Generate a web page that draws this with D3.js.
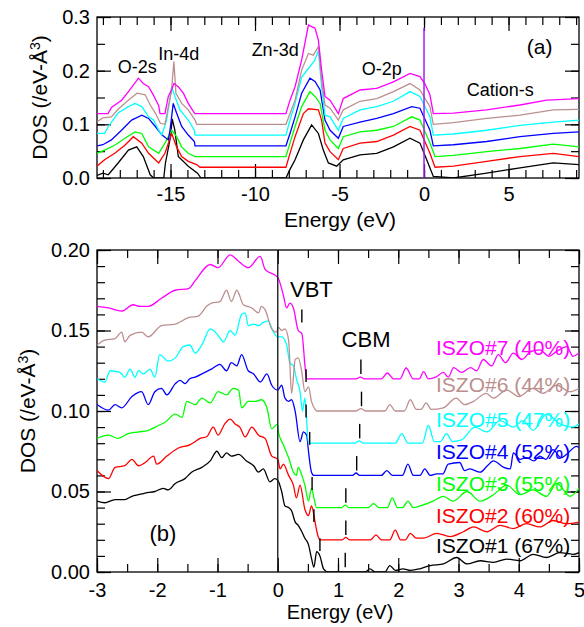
<!DOCTYPE html>
<html>
<head>
<meta charset="utf-8">
<script src="https://cdn.jsdelivr.net/npm/d3@7"></script>
<style>
  body { margin: 0; background: #fff; }
  text { font-family: "Liberation Sans", Arial, Helvetica, sans-serif; }
</style>
</head>
<body>
<div id="chart"></div>
<script>
// samples, bottom curve first
var names = ['ISZO#1 (67%)', 'ISZO#2 (60%)', 'ISZO#3 (55%)', 'ISZO#4 (52%)', 'ISZO#5 (47%)', 'ISZO#6 (44%)', 'ISZO#7 (40%)']
var colors = ['#000000', '#ff0000', '#00ff00', '#0000ff', '#00ffff', '#bc8f8f', '#ff00ff']

// panel (a): [energy (eV), DOS (shifted)]
var topBlack = [[-19.35,0.005],[-19.0,0.009],[-18.68,0.006],[-18.1,0.028],[-17.49,0.052],[-17.0,0.058],[-16.61,0.040],[-16.2,0.006],[-16.0,0],[-15.4,0],[-15.3,0.028],[-15.0,0.077],[-14.9,0.11],[-14.75,0.09],[-14.54,0.040],[-13.95,0.022],[-13.4,0.009],[-13.2,0],[-8.17,0],[-7.93,0.016],[-7.63,0.034],[-7.14,0.071],[-6.65,0.099],[-6.25,0.083],[-5.96,0.052],[-5.66,0.028],[-5.17,0.022],[-4.78,0.034],[-3.79,0.043],[-2.8,0.046],[-1.81,0.058],[-0.83,0.074],[-0.24,0.065],[0.16,0.034],[0.55,0.003],[1.74,0],[3.71,0.009],[5.68,0.019],[7.65,0.028],[9.17,0.025]]
var topRed = [[-19.35,0.022],[-18.9,0.034],[-18.3,0.046],[-17.7,0.061],[-17.2,0.077],[-16.7,0.065],[-16.3,0.046],[-15.7,0.028],[-15.33,0.046],[-14.93,0.083],[-14.64,0.058],[-14.34,0.040],[-13.95,0.031],[-13.45,0.025],[-13.26,0.02],[-8.17,0.02],[-7.93,0.046],[-7.63,0.077],[-7.14,0.120],[-6.84,0.129],[-6.25,0.127],[-6.06,0.108],[-5.86,0.065],[-5.56,0.049],[-5.07,0.034],[-4.78,0.055],[-3.79,0.065],[-2.8,0.068],[-1.81,0.080],[-0.83,0.096],[-0.24,0.089],[0.35,0.046],[0.65,0.02],[1.74,0.022],[3.71,0.031],[5.68,0.040],[7.65,0.046],[9.17,0.040]]
var topGreen = [[-19.35,0.046],[-18.9,0.052],[-18.3,0.061],[-17.7,0.074],[-17.1,0.086],[-16.7,0.083],[-16.3,0.058],[-15.7,0.046],[-15.33,0.065],[-14.93,0.089],[-14.64,0.077],[-14.34,0.058],[-13.95,0.046],[-13.55,0.04],[-8.17,0.04],[-7.93,0.065],[-7.63,0.096],[-7.24,0.133],[-6.75,0.161],[-6.45,0.152],[-6.15,0.139],[-5.86,0.089],[-5.56,0.071],[-5.07,0.055],[-4.78,0.077],[-3.79,0.086],[-2.8,0.089],[-1.81,0.096],[-0.73,0.114],[-0.24,0.108],[0.35,0.065],[0.65,0.04],[1.74,0.042],[3.71,0.049],[5.68,0.055],[7.65,0.063],[9.17,0.058]]
var topBlue = [[-19.35,0.06],[-19.0,0.062],[-18.5,0.071],[-17.9,0.089],[-17.3,0.108],[-16.7,0.117],[-16.3,0.111],[-15.9,0.096],[-15.5,0.08],[-15.13,0.071],[-15.03,0.089],[-14.84,0.139],[-14.64,0.121],[-14.34,0.096],[-13.95,0.08],[-13.59,0.068],[-13.55,0.06],[-8.17,0.06],[-7.93,0.083],[-7.63,0.114],[-7.24,0.158],[-6.75,0.186],[-6.45,0.180],[-6.15,0.164],[-5.86,0.108],[-5.56,0.089],[-5.07,0.074],[-4.78,0.096],[-3.79,0.104],[-2.8,0.111],[-1.81,0.12],[-0.73,0.133],[-0.24,0.13],[0.35,0.089],[0.55,0.06],[1.74,0.062],[3.71,0.068],[5.68,0.077],[7.65,0.083],[9.17,0.086]]
var topCyan = [[-19.35,0.083],[-18.9,0.083],[-18.68,0.096],[-18.1,0.121],[-17.49,0.133],[-17.1,0.139],[-16.7,0.133],[-16.3,0.114],[-16.0,0.108],[-15.7,0.089],[-15.52,0.08],[-15.23,0.108],[-14.93,0.170],[-14.74,0.152],[-14.44,0.127],[-13.95,0.108],[-13.59,0.089],[-13.55,0.08],[-8.17,0.08],[-7.93,0.108],[-7.63,0.139],[-7.24,0.188],[-6.84,0.204],[-6.45,0.220],[-6.25,0.238],[-6.06,0.170],[-5.86,0.117],[-5.56,0.114],[-5.07,0.089],[-4.78,0.111],[-3.79,0.127],[-2.8,0.133],[-1.81,0.143],[-0.83,0.161],[-0.24,0.152],[0.35,0.114],[0.55,0.08],[1.74,0.082],[3.71,0.089],[5.68,0.098],[7.65,0.104],[9.17,0.108]]
var topBrown = [[-19.35,0.105],[-19.0,0.112],[-18.5,0.114],[-18.1,0.128],[-17.5,0.145],[-16.98,0.158],[-16.5,0.155],[-16.2,0.136],[-15.9,0.121],[-15.6,0.102],[-15.33,0.10],[-15.13,0.133],[-14.95,0.16],[-14.8,0.217],[-14.68,0.158],[-14.34,0.139],[-13.95,0.127],[-13.55,0.108],[-13.45,0.10],[-8.17,0.10],[-7.93,0.12],[-7.63,0.145],[-7.24,0.201],[-6.84,0.232],[-6.55,0.229],[-6.25,0.245],[-6.06,0.182],[-5.86,0.136],[-5.56,0.130],[-5.07,0.108],[-4.78,0.127],[-3.79,0.143],[-2.8,0.148],[-1.81,0.161],[-0.83,0.176],[-0.24,0.164],[0.35,0.133],[0.55,0.10],[1.74,0.103],[3.71,0.111],[5.68,0.117],[7.65,0.127],[9.17,0.128]]
var topMagenta = [[-19.35,0.12],[-18.7,0.12],[-18.48,0.132],[-17.89,0.145],[-17.49,0.161],[-17.2,0.173],[-16.9,0.186],[-16.61,0.176],[-16.3,0.170],[-16.02,0.155],[-15.82,0.142],[-15.7,0.135],[-15.62,0.12],[-15.33,0.12],[-15.13,0.152],[-14.93,0.165],[-14.8,0.176],[-14.54,0.170],[-14.24,0.158],[-13.95,0.139],[-13.65,0.124],[-13.55,0.12],[-8.17,0.12],[-7.93,0.145],[-7.63,0.170],[-7.24,0.220],[-6.84,0.285],[-6.45,0.279],[-6.25,0.257],[-6.06,0.201],[-5.86,0.152],[-5.56,0.145],[-5.07,0.12],[-4.78,0.148],[-3.79,0.164],[-2.8,0.167],[-1.81,0.179],[-0.83,0.195],[-0.24,0.189],[0.06,0.175],[0.35,0.155],[0.55,0.12],[1.74,0.121],[3.71,0.127],[5.68,0.136],[7.26,0.145],[9.17,0.148]]

// panel (b): [energy (eV), DOS (shifted)]
var botBlack = [[-3,0.044],[-2.87,0.043],[-2.70,0.045],[-2.54,0.045],[-2.42,0.047],[-2.31,0.048],[-2.20,0.049],[-2.04,0.05],[-1.90,0.052],[-1.82,0.051],[-1.70,0.055],[-1.54,0.058],[-1.43,0.062],[-1.26,0.065],[-1.12,0.069],[-1.01,0.075],[-0.93,0.071],[-0.85,0.074],[-0.77,0.072],[-0.65,0.073],[-0.52,0.069],[-0.40,0.066],[-0.32,0.062],[-0.24,0.064],[-0.13,0.056],[-0.05,0.058],[0.0,0.057],[0.065,0.05],[0.12,0.041],[0.18,0.04],[0.23,0.038],[0.29,0.031],[0.34,0.029],[0.40,0.025],[0.45,0.021],[0.51,0.017],[0.56,0.0085],[0.60,0.003],[0.646,0.0126],[0.70,0.01],[0.76,0.002],[0.84,0],[1.45,0],[1.53,0.002],[1.62,0],[1.78,0],[1.86,0.004],[1.95,0.001],[2.08,0.002],[2.2,0.001],[2.36,0.002],[2.53,0.004],[2.75,0.005],[2.97,0.009],[3.14,0.005],[3.36,0.007],[3.58,0.006],[3.8,0.008],[4.02,0.007],[4.24,0.011],[4.46,0.009],[4.68,0.012],[4.9,0.011],[5.0,0.012]]
var botRed = [[-3,0.063],[-2.81,0.058],[-2.70,0.065],[-2.54,0.066],[-2.42,0.07],[-2.31,0.066],[-2.20,0.068],[-2.06,0.072],[-2.01,0.067],[-1.84,0.072],[-1.65,0.077],[-1.46,0.079],[-1.37,0.081],[-1.29,0.083],[-1.18,0.084],[-1.07,0.09],[-0.99,0.085],[-0.88,0.092],[-0.79,0.095],[-0.71,0.092],[-0.63,0.09],[-0.54,0.084],[-0.43,0.09],[-0.32,0.085],[-0.21,0.083],[-0.10,0.072],[0.0,0.07],[0.04,0.064],[0.093,0.067],[0.18,0.06],[0.26,0.054],[0.31,0.046],[0.37,0.054],[0.45,0.039],[0.51,0.035],[0.56,0.041],[0.62,0.031],[0.65,0.025],[0.70,0.02],[1.07,0.02],[1.13,0.0215],[1.19,0.02],[1.54,0.02],[1.63,0.023],[1.72,0.02],[1.86,0.02],[1.95,0.026],[2.04,0.02],[2.12,0.02],[2.2,0.024],[2.3,0.021],[2.42,0.021],[2.64,0.024],[2.86,0.022],[3.08,0.025],[3.25,0.028],[3.47,0.025],[3.69,0.029],[3.91,0.027],[4.13,0.03],[4.35,0.028],[4.57,0.032],[4.79,0.03],[5.0,0.031]]
var botGreen = [[-3,0.083],[-2.81,0.085],[-2.65,0.083],[-2.48,0.086],[-2.31,0.087],[-2.15,0.088],[-1.98,0.091],[-1.87,0.093],[-1.70,0.098],[-1.59,0.096],[-1.51,0.106],[-1.37,0.104],[-1.26,0.108],[-1.12,0.105],[-0.99,0.112],[-0.85,0.110],[-0.74,0.114],[-0.65,0.113],[-0.60,0.102],[-0.49,0.106],[-0.38,0.106],[-0.27,0.107],[-0.18,0.102],[-0.10,0.089],[0.0,0.092],[0.01,0.087],[0.093,0.079],[0.18,0.071],[0.26,0.062],[0.31,0.06],[0.34,0.065],[0.40,0.06],[0.45,0.054],[0.51,0.044],[0.56,0.052],[0.60,0.046],[0.646,0.04],[1.06,0.04],[1.12,0.0415],[1.18,0.04],[1.5,0.04],[1.59,0.0425],[1.68,0.04],[1.82,0.04],[1.9,0.046],[1.99,0.04],[2.07,0.04],[2.16,0.044],[2.25,0.04],[2.36,0.041],[2.58,0.044],[2.75,0.047],[2.91,0.044],[3.14,0.05],[3.36,0.044],[3.58,0.048],[3.80,0.054],[4.02,0.048],[4.24,0.051],[4.46,0.047],[4.63,0.055],[4.85,0.047],[5.0,0.052]]
var botBlue = [[-3,0.104],[-2.81,0.1005],[-2.70,0.104],[-2.59,0.102],[-2.42,0.109],[-2.26,0.112],[-2.15,0.104],[-2.04,0.112],[-1.93,0.114],[-1.84,0.110],[-1.70,0.117],[-1.62,0.119],[-1.54,0.117],[-1.46,0.12],[-1.37,0.121],[-1.21,0.124],[-1.10,0.126],[-0.96,0.129],[-0.85,0.125],[-0.77,0.13],[-0.68,0.128],[-0.60,0.135],[-0.49,0.125],[-0.40,0.123],[-0.29,0.118],[-0.18,0.123],[-0.10,0.116],[0.0,0.113],[0.065,0.116],[0.12,0.108],[0.18,0.106],[0.23,0.107],[0.29,0.0996],[0.37,0.081],[0.425,0.087],[0.48,0.085],[0.51,0.075],[0.56,0.062],[0.60,0.06],[1.24,0.06],[1.30,0.0615],[1.36,0.06],[1.72,0.06],[1.81,0.063],[1.9,0.06],[2.07,0.06],[2.16,0.067],[2.25,0.06],[2.36,0.06],[2.44,0.064],[2.53,0.06],[2.64,0.061],[2.74,0.061],[2.83,0.067],[3.02,0.068],[3.1,0.063],[3.19,0.064],[3.36,0.062],[3.48,0.066],[3.58,0.069],[3.75,0.065],[3.86,0.064],[3.91,0.074],[4.02,0.07],[4.13,0.071],[4.25,0.069],[4.35,0.072],[4.45,0.07],[4.57,0.076],[4.7,0.071],[4.79,0.073],[4.96,0.078],[5.0,0.077]]
var botCyan = [[-3,0.12],[-2.87,0.118],[-2.78,0.125],[-2.62,0.124],[-2.54,0.121],[-2.45,0.126],[-2.37,0.121],[-2.31,0.125],[-2.23,0.123],[-2.12,0.126],[-2.04,0.121],[-1.96,0.135],[-1.82,0.131],[-1.70,0.133],[-1.57,0.140],[-1.46,0.141],[-1.37,0.136],[-1.26,0.141],[-1.12,0.151],[-1.01,0.148],[-0.90,0.143],[-0.79,0.15],[-0.71,0.147],[-0.60,0.16],[-0.54,0.161],[-0.49,0.153],[-0.40,0.154],[-0.32,0.153],[-0.24,0.155],[-0.16,0.156],[-0.07,0.149],[0.0,0.146],[0.065,0.146],[0.148,0.141],[0.20,0.13],[0.26,0.128],[0.31,0.12],[0.37,0.112],[0.41,0.10],[0.45,0.108],[0.51,0.08],[1.28,0.08],[1.35,0.0815],[1.42,0.08],[1.95,0.08],[2.06,0.086],[2.16,0.08],[2.4,0.08],[2.50,0.091],[2.6,0.081],[2.7,0.081],[2.80,0.086],[2.9,0.081],[3.05,0.082],[3.27,0.09],[3.47,0.087],[3.69,0.094],[3.91,0.09],[4.07,0.094],[4.24,0.088],[4.46,0.098],[4.68,0.092],[4.9,0.09],[5.0,0.092]]
var botBrown = [[-3,0.141],[-2.87,0.144],[-2.70,0.145],[-2.59,0.149],[-2.54,0.143],[-2.45,0.147],[-2.26,0.149],[-2.15,0.146],[-1.93,0.153],[-1.70,0.154],[-1.48,0.158],[-1.32,0.159],[-1.18,0.165],[-1.10,0.167],[-0.96,0.168],[-0.85,0.175],[-0.77,0.168],[-0.68,0.175],[-0.57,0.166],[-0.43,0.164],[-0.32,0.161],[-0.27,0.165],[-0.21,0.163],[-0.10,0.151],[-0.02,0.149],[0.01,0.152],[0.065,0.150],[0.12,0.151],[0.18,0.144],[0.23,0.111],[0.29,0.132],[0.34,0.133],[0.40,0.124],[0.45,0.112],[0.51,0.115],[0.56,0.106],[0.62,0.101],[0.65,0.10],[1.3,0.10],[1.38,0.1015],[1.46,0.10],[1.78,0.10],[1.86,0.104],[1.95,0.10],[2.1,0.10],[2.2,0.107],[2.3,0.101],[2.38,0.101],[2.46,0.105],[2.55,0.101],[2.75,0.102],[2.96,0.108],[3.1,0.104],[3.25,0.106],[3.46,0.111],[3.58,0.108],[3.8,0.113],[4.0,0.109],[4.23,0.114],[4.4,0.111],[4.63,0.116],[4.85,0.112],[5.0,0.114]]
var botMagenta = [[-3,0.165],[-2.81,0.164],[-2.59,0.162],[-2.40,0.166],[-2.29,0.165],[-2.15,0.165],[-1.93,0.170],[-1.70,0.175],[-1.48,0.176],[-1.37,0.181],[-1.12,0.191],[-0.99,0.189],[-0.79,0.197],[-0.65,0.193],[-0.49,0.189],[-0.29,0.196],[-0.21,0.188],[0.0,0.183],[0.093,0.172],[0.148,0.164],[0.20,0.167],[0.26,0.164],[0.34,0.150],[0.40,0.148],[0.46,0.125],[0.48,0.12],[1.30,0.12],[1.37,0.121],[1.44,0.12],[1.72,0.12],[1.82,0.1236],[1.92,0.12],[2.03,0.12],[2.13,0.1267],[2.25,0.12],[2.35,0.12],[2.42,0.1245],[2.5,0.12],[2.62,0.121],[2.75,0.124],[2.83,0.121],[2.92,0.127],[3.05,0.124],[3.2,0.127],[3.3,0.125],[3.41,0.132],[3.55,0.128],[3.66,0.135],[3.78,0.13],[3.91,0.136],[4.05,0.132],[4.2,0.137],[4.35,0.138],[4.5,0.134],[4.63,0.137],[4.8,0.14],[4.9,0.134],[5.0,0.136]]

var topSeries = [topBlack, topRed, topGreen, topBlue, topCyan, topBrown, topMagenta]
var botSeries = [botBlack, botRed, botGreen, botBlue, botCyan, botBrown, botMagenta]

// curve offsets and band-edge marks, black..magenta
var offsets = [0, 0.02, 0.04, 0.06, 0.08, 0.10, 0.12]
var vbtE = [0.70, 0.60, 0.57, 0.53, 0.47, 0.47, 0.40]
var vbtV = [0.013, 0.031, 0.051, 0.079, 0.096, 0.118, 0.155]
var cbmE = [1.12, 1.13, 1.13, 1.31, 1.36, 1.39, 1.38]

var topXTicks = [-15, -10, -5, 0, 5]
var topYTicks = [0, 0.1, 0.2, 0.3]
var botXTicks = [-3, -2, -1, 0, 1, 2, 3, 4, 5]
var botYTicks = [0, 0.05, 0.1, 0.15, 0.2]

var W = 584, H = 627

var svg = d3.select('#chart').append('svg')
  .attr('width', W)
  .attr('height', H)

// ---------- panel (a)
var xa = d3.scaleLinear().domain([-19.35, 9.17]).range([97, 579])
var ya = d3.scaleLinear().domain([0, 0.3]).range([178, 17])

// ---------- panel (b)
var xb = d3.scaleLinear().domain([-3, 5]).range([97, 579])
var yb = d3.scaleLinear().domain([0, 0.2]).range([572, 250])

function frame(x, y, id, xTicks, xMinor, yTicks, yMinor, xFmt, yFmt, xPad) {
  var g = svg.append('g')
  var x0 = x.range()[0], x1 = x.range()[1]
  var y0 = y.range()[0], y1 = y.range()[1]

  g.append('clipPath').attr('id', id)
    .append('rect').attr('x', x0).attr('y', y1).attr('width', x1 - x0).attr('height', y0 - y1)

  // minor ticks
  g.append('g').attr('transform', 'translate(0,' + y0 + ')')
    .call(d3.axisBottom(x).tickValues(xMinor).tickSize(-8).tickFormat(''))
  g.append('g').attr('transform', 'translate(0,' + y1 + ')')
    .call(d3.axisTop(x).tickValues(xMinor).tickSize(-8).tickFormat(''))
  g.append('g').attr('transform', 'translate(' + x0 + ',0)')
    .call(d3.axisLeft(y).tickValues(yMinor).tickSize(-8).tickFormat(''))
  g.append('g').attr('transform', 'translate(' + x1 + ',0)')
    .call(d3.axisRight(y).tickValues(yMinor).tickSize(-8).tickFormat(''))

  // major ticks + labels
  g.append('g').attr('class', 'xlab').attr('transform', 'translate(0,' + y0 + ')')
    .call(d3.axisBottom(x).tickValues(xTicks).tickSize(-14).tickPadding(xPad).tickFormat(xFmt))
  g.append('g').attr('transform', 'translate(0,' + y1 + ')')
    .call(d3.axisTop(x).tickValues(xTicks).tickSize(-14).tickFormat(''))
  g.append('g').attr('class', 'ylab').attr('transform', 'translate(' + x0 + ',0)')
    .call(d3.axisLeft(y).tickValues(yTicks).tickSize(-14).tickPadding(7).tickFormat(yFmt))
  g.append('g').attr('transform', 'translate(' + x1 + ',0)')
    .call(d3.axisRight(y).tickValues(yTicks).tickSize(-14).tickFormat(''))

  g.selectAll('.domain').remove()
  g.selectAll('.tick line').attr('stroke', '#000').attr('stroke-width', 1.2)
  g.selectAll('.tick text').attr('fill', '#000').style('font-size', '20px')
    .style('font-family', '"Liberation Sans", Arial, sans-serif')

  g.append('rect')
    .attr('x', x0).attr('y', y1)
    .attr('width', x1 - x0).attr('height', y0 - y1)
    .attr('fill', 'none').attr('stroke', '#000').attr('stroke-width', 1.3)
  return g
}

function range(a, b, s) { return d3.range(a, b + s / 2, s).map(function (d) { return Math.round(d * 1000) / 1000 }) }

frame(xa, ya, 'clipA', topXTicks, range(-19, 9, 1), topYTicks, range(0, 0.3, 0.05),
  function (d) { return String(d) }, d3.format('.1f'), 9)
frame(xb, yb, 'clipB', botXTicks, range(-3, 5, 0.5), botYTicks, range(0, 0.2, 0.01),
  function (d) { return String(d) }, d3.format('.2f'), 11)

// curves
var lineA = d3.line().x(function (d) { return xa(d[0]) }).y(function (d) { return ya(d[1]) })
var lineB = d3.line().x(function (d) { return xb(d[0]) }).y(function (d) { return yb(d[1]) })
  .curve(d3.curveMonotoneX)

svg.append('g').attr('clip-path', 'url(#clipA)')
  .selectAll('path').data(topSeries).enter().append('path')
  .attr('d', lineA)
  .attr('fill', 'none')
  .attr('stroke', function (d, i) { return colors[i] })
  .attr('stroke-width', 1.3)

// Fermi level in (a)
svg.append('line')
  .attr('x1', xa(0)).attr('x2', xa(0))
  .attr('y1', ya(0)).attr('y2', ya(0.28))
  .attr('stroke', '#a020f0').attr('stroke-width', 1.5)

svg.append('g').attr('clip-path', 'url(#clipB)')
  .selectAll('path').data(botSeries).enter().append('path')
  .attr('d', lineB)
  .attr('fill', 'none')
  .attr('stroke', function (d, i) { return colors[i] })
  .attr('stroke-width', 1.3)

// zero line in (b)
svg.append('line')
  .attr('x1', xb(0)).attr('x2', xb(0))
  .attr('y1', yb(0)).attr('y2', yb(0.2))
  .attr('stroke', '#222').attr('stroke-width', 1.4)

// VBT / CBM marks
var marks = svg.append('g').attr('stroke', '#000').attr('stroke-width', 1.4)
vbtE.forEach(function (e, i) {
  marks.append('line')
    .attr('x1', xb(e)).attr('x2', xb(e))
    .attr('y1', yb(vbtV[i])).attr('y2', yb(vbtV[i] + 0.008))
})
cbmE.forEach(function (e, i) {
  marks.append('line')
    .attr('x1', xb(e)).attr('x2', xb(e))
    .attr('y1', yb(offsets[i] + 0.003)).attr('y2', yb(offsets[i] + 0.012))
})

// legend labels
var legendY = [553, 523, 491, 459, 427, 391.5, 355]
svg.append('g').selectAll('text').data(names).enter().append('text')
  .attr('x', 436)
  .attr('y', function (d, i) { return legendY[i] })
  .attr('fill', function (d, i) { return colors[i] })
  .style('font-size', '21px')
  .text(function (d) { return d })

// annotations
var notesA = [
  { t: 'O-2s', e: -18.12, v: 0.1956, s: 18 },
  { t: 'In-4d', e: -15.72, v: 0.220, s: 18 },
  { t: 'Zn-3d', e: -10.2, v: 0.227, s: 18 },
  { t: 'O-2p', e: -3.69, v: 0.192, s: 18 },
  { t: 'Cation-s', e: 2.53, v: 0.152, s: 18 },
  { t: '(a)', e: 6.08, v: 0.231, s: 21 }
]
notesA.forEach(function (n) {
  svg.append('text').attr('x', xa(n.e)).attr('y', ya(n.v))
    .style('font-size', n.s + 'px').text(n.t)
})
var notesB = [
  { t: 'VBT', e: 0.203, v: 0.1708, s: 22 },
  { t: 'CBM', e: 1.06, v: 0.140, s: 22 },
  { t: '(b)', e: -2.13, v: 0.0193, s: 22 }
]
notesB.forEach(function (n) {
  svg.append('text').attr('x', xb(n.e)).attr('y', yb(n.v))
    .style('font-size', n.s + 'px').text(n.t)
})

// axis titles
function yTitle(x, y) {
  var t = svg.append('text')
    .attr('transform', 'translate(' + x + ',' + y + ') rotate(-90)')
    .attr('text-anchor', 'middle')
    .style('font-size', '21px')
  t.append('tspan').text('DOS (/eV-\u00c5')
  t.append('tspan').attr('dy', '-0.5em').style('font-size', '14px').text('3')
  t.append('tspan').attr('dy', '0.35em').text(')')
}
yTitle(47, 97.5)
yTitle(35, 411)

svg.append('text').attr('x', 340).attr('y', 227).attr('text-anchor', 'middle')
  .style('font-size', '21px').text('Energy (eV)')
svg.append('text').attr('x', 340).attr('y', 619).attr('text-anchor', 'middle')
  .style('font-size', '20px').text('Energy (eV)')
</script>
</body>
</html>
